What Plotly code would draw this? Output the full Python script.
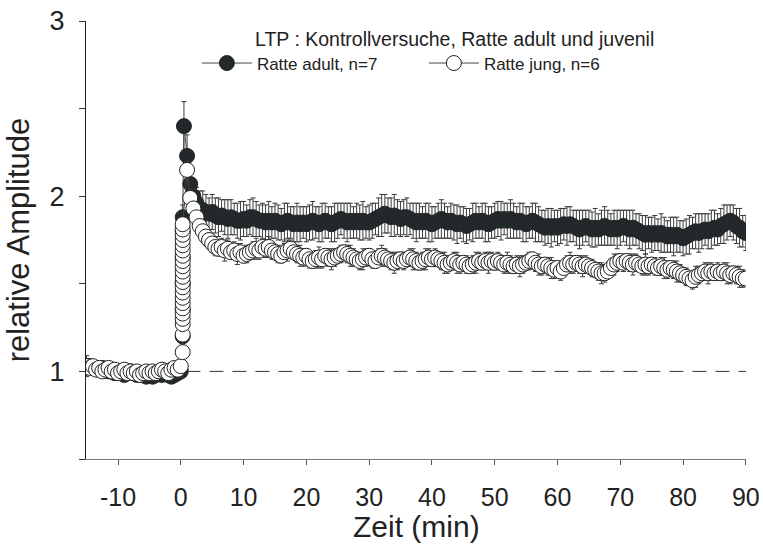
import numpy as np
import plotly.graph_objects as go

# ---------------- data ----------------
# baseline, t = -15 ... 0 min every 0.5 min
base_t = np.arange(-15, 0.01, 0.5)
adult_base = [1.03, 1.03, 1.02, 1.02, 1.01, 1.02, 1.01, 1.00, 1.01, 0.99,
              1.00, 0.99, 0.98, 0.99, 1.00, 0.99, 0.98, 0.99, 0.98, 0.97,
              0.98, 0.97, 0.98, 0.99, 0.98, 0.99, 0.98, 0.97, 0.98, 0.99, 1.00]
jung_base = [1.03, 1.02, 1.03, 1.01, 1.02, 1.00, 1.01, 1.02, 1.00, 1.01,
             0.99, 1.00, 1.01, 0.99, 1.00, 0.99, 1.00, 0.98, 0.99, 1.00,
             0.99, 1.00, 0.99, 1.00, 1.01, 1.00, 0.99, 1.01, 1.02, 1.01, 1.03]
adult_base_err = [0.06, 0.04, 0.03, 0.03, 0.03, 0.03, 0.03, 0.03, 0.03, 0.03,
                  0.03, 0.03, 0.03, 0.03, 0.03, 0.03, 0.03, 0.03, 0.03, 0.03,
                  0.03, 0.03, 0.03, 0.03, 0.03, 0.03, 0.03, 0.03, 0.03, 0.03, 0.03]
jung_base_err = [0.03] * 31

# tetanus stack (measurements during / right after stimulation)
stack_time = 0.3
adult_stack = [1.20, 1.35, 1.50, 1.65, 1.80, 1.88]
adult_stack_err = [0.05, 0.05, 0.05, 0.05, 0.06, 0.07]
jung_stack = [1.11, 1.21, 1.27, 1.30, 1.33, 1.36, 1.39, 1.42, 1.45, 1.48, 1.51,
              1.54, 1.57, 1.60, 1.63, 1.66, 1.69, 1.72, 1.75, 1.78, 1.81, 1.84]
jung_stack_err = [0.03] * len(jung_stack)

# post-tetanic, adult: t = 0.5 ... 90 every 0.5 min
adult_post_t = np.arange(0.5, 90.01, 0.5)
adult_post = [
    2.40, 2.23, 2.07, 2.00, 1.96, 1.93, 1.92, 1.91, 1.90, 1.91,
    1.89, 1.88, 1.89, 1.88, 1.87, 1.88, 1.87, 1.86, 1.86, 1.87,
    1.86, 1.88, 1.88, 1.87, 1.86, 1.86, 1.85, 1.86, 1.85, 1.86,
    1.85, 1.84, 1.85, 1.86, 1.85, 1.84, 1.85, 1.84, 1.85, 1.84,
    1.85, 1.86, 1.85, 1.84, 1.85, 1.86, 1.85, 1.84, 1.85, 1.86,
    1.87, 1.86, 1.85, 1.86, 1.85, 1.86, 1.85, 1.86, 1.85, 1.85,
    1.86, 1.87, 1.88, 1.89, 1.90, 1.89, 1.88, 1.89, 1.88, 1.87,
    1.88, 1.88, 1.87, 1.86, 1.85, 1.86, 1.85, 1.86, 1.85, 1.84,
    1.85, 1.86, 1.87, 1.86, 1.85, 1.86, 1.85, 1.84, 1.85, 1.84,
    1.83, 1.84, 1.85, 1.86, 1.85, 1.86, 1.85, 1.84, 1.85, 1.86,
    1.87, 1.86, 1.87, 1.86, 1.87, 1.86, 1.85, 1.86, 1.85, 1.84,
    1.85, 1.86, 1.85, 1.84, 1.83, 1.82, 1.83, 1.82, 1.83, 1.82,
    1.83, 1.84, 1.83, 1.84, 1.83, 1.82, 1.81, 1.82, 1.83, 1.82,
    1.81, 1.82, 1.81, 1.82, 1.83, 1.82, 1.81, 1.82, 1.81, 1.82,
    1.83, 1.82, 1.81, 1.82, 1.81, 1.80, 1.79, 1.78, 1.79, 1.78,
    1.79, 1.78, 1.79, 1.78, 1.77, 1.78, 1.77, 1.78, 1.77, 1.76,
    1.77, 1.78, 1.79, 1.80, 1.79, 1.80, 1.81, 1.80, 1.81, 1.82,
    1.81, 1.83, 1.84, 1.85, 1.86, 1.85, 1.83, 1.82, 1.80, 1.79]
adult_post_err = [
    0.14, 0.12, 0.10, 0.10, 0.09, 0.10, 0.11, 0.10, 0.09, 0.10,
    0.10, 0.11, 0.09, 0.10, 0.11, 0.10, 0.09, 0.10, 0.11, 0.10,
    0.09, 0.10, 0.11, 0.10, 0.09, 0.10, 0.10, 0.11, 0.09, 0.10,
    0.10, 0.09, 0.11, 0.10, 0.09, 0.10, 0.11, 0.10, 0.09, 0.10,
    0.10, 0.11, 0.09, 0.10, 0.11, 0.10, 0.09, 0.10, 0.11, 0.10,
    0.09, 0.10, 0.11, 0.10, 0.09, 0.10, 0.10, 0.11, 0.09, 0.10,
    0.10, 0.09, 0.11, 0.12, 0.11, 0.10, 0.11, 0.12, 0.10, 0.10,
    0.10, 0.11, 0.09, 0.10, 0.11, 0.10, 0.09, 0.10, 0.11, 0.10,
    0.09, 0.10, 0.11, 0.10, 0.09, 0.10, 0.10, 0.11, 0.09, 0.10,
    0.10, 0.09, 0.11, 0.10, 0.09, 0.10, 0.11, 0.10, 0.09, 0.10,
    0.10, 0.11, 0.09, 0.10, 0.11, 0.10, 0.09, 0.10, 0.11, 0.10,
    0.09, 0.10, 0.11, 0.10, 0.09, 0.10, 0.10, 0.11, 0.09, 0.10,
    0.10, 0.09, 0.11, 0.10, 0.09, 0.10, 0.11, 0.10, 0.09, 0.10,
    0.10, 0.11, 0.09, 0.10, 0.11, 0.10, 0.09, 0.10, 0.11, 0.10,
    0.09, 0.10, 0.11, 0.10, 0.09, 0.10, 0.10, 0.11, 0.09, 0.10,
    0.10, 0.09, 0.11, 0.10, 0.09, 0.10, 0.11, 0.10, 0.09, 0.10,
    0.10, 0.11, 0.09, 0.10, 0.11, 0.10, 0.09, 0.10, 0.11, 0.10,
    0.09, 0.10, 0.11, 0.10, 0.09, 0.10, 0.10, 0.11, 0.09, 0.10]

# post-tetanic, juvenile: t = 1.0 ... 90 every 0.5 min
jung_post_t = np.arange(1.0, 90.01, 0.5)
jung_post = [
    2.15, 1.99, 1.93, 1.88, 1.83, 1.80, 1.77, 1.75, 1.73,
    1.71, 1.70, 1.71, 1.69, 1.70, 1.68, 1.69, 1.67, 1.68, 1.66,
    1.67, 1.68, 1.69, 1.70, 1.69, 1.71, 1.70, 1.71, 1.69, 1.68,
    1.67, 1.66, 1.68, 1.69, 1.70, 1.68, 1.67, 1.66, 1.65, 1.66,
    1.64, 1.63, 1.64, 1.65, 1.64, 1.66, 1.65, 1.64, 1.65, 1.66,
    1.67, 1.68, 1.67, 1.66, 1.65, 1.64, 1.63, 1.64, 1.65, 1.66,
    1.64, 1.63, 1.65, 1.66, 1.65, 1.64, 1.63, 1.62, 1.63, 1.64,
    1.63, 1.64, 1.65, 1.64, 1.63, 1.62, 1.63, 1.64, 1.65, 1.64,
    1.65, 1.64, 1.63, 1.62, 1.61, 1.62, 1.63, 1.62, 1.61, 1.62,
    1.61, 1.60, 1.61, 1.62, 1.63, 1.62, 1.63, 1.62, 1.63, 1.62,
    1.63, 1.62, 1.61, 1.62, 1.61, 1.60, 1.61, 1.60, 1.61, 1.62,
    1.63, 1.64, 1.62, 1.61, 1.60, 1.61, 1.60, 1.59, 1.58, 1.59,
    1.57, 1.59, 1.61, 1.62, 1.61, 1.62, 1.61, 1.60, 1.61, 1.60,
    1.59, 1.58, 1.57, 1.56, 1.56, 1.57, 1.59, 1.61, 1.62, 1.63,
    1.62, 1.63, 1.62, 1.61, 1.62, 1.61, 1.60, 1.61, 1.60, 1.61,
    1.60, 1.59, 1.60, 1.59, 1.58, 1.59, 1.58, 1.57, 1.56, 1.55,
    1.54, 1.53, 1.52, 1.54, 1.55, 1.56, 1.57, 1.56, 1.57, 1.56,
    1.57, 1.56, 1.57, 1.56, 1.55, 1.56, 1.55, 1.54, 1.53, 1.53]
jung_post_err = [
    0.05, 0.05, 0.05, 0.05, 0.05, 0.05, 0.05, 0.05, 0.05,
    0.05, 0.04, 0.05, 0.06, 0.05, 0.04, 0.05, 0.06, 0.05, 0.04,
    0.05, 0.04, 0.05, 0.06, 0.05, 0.04, 0.05, 0.06, 0.05, 0.04,
    0.05, 0.04, 0.05, 0.06, 0.05, 0.04, 0.05, 0.06, 0.05, 0.04,
    0.05, 0.04, 0.05, 0.06, 0.05, 0.04, 0.05, 0.06, 0.05, 0.04,
    0.05, 0.04, 0.05, 0.06, 0.05, 0.04, 0.05, 0.06, 0.05, 0.04,
    0.05, 0.04, 0.05, 0.06, 0.05, 0.04, 0.05, 0.06, 0.05, 0.04,
    0.05, 0.04, 0.05, 0.06, 0.05, 0.04, 0.05, 0.06, 0.05, 0.04,
    0.05, 0.04, 0.05, 0.06, 0.05, 0.04, 0.05, 0.06, 0.05, 0.04,
    0.05, 0.04, 0.05, 0.06, 0.05, 0.04, 0.05, 0.06, 0.05, 0.04,
    0.05, 0.04, 0.05, 0.06, 0.05, 0.04, 0.05, 0.06, 0.05, 0.04,
    0.05, 0.04, 0.05, 0.06, 0.05, 0.04, 0.05, 0.06, 0.05, 0.04,
    0.05, 0.04, 0.05, 0.06, 0.05, 0.04, 0.05, 0.06, 0.05, 0.04,
    0.05, 0.04, 0.05, 0.06, 0.05, 0.04, 0.05, 0.06, 0.05, 0.04,
    0.05, 0.04, 0.05, 0.06, 0.05, 0.04, 0.05, 0.06, 0.05, 0.04,
    0.05, 0.04, 0.05, 0.06, 0.05, 0.04, 0.05, 0.06, 0.05, 0.04,
    0.05, 0.04, 0.05, 0.06, 0.05, 0.04, 0.05, 0.06, 0.05, 0.04,
    0.05, 0.04, 0.05, 0.06, 0.05, 0.04, 0.05, 0.06, 0.05, 0.04]

ref_x = [0.9, 90]
ref_y = [1, 1]

x_ticks = [-10, 0, 10, 20, 30, 40, 50, 60, 70, 80, 90]
x_ticktext = ["-10", "0", "10", "20", "30", "40", "50", "60", "70", "80", "90"]
y_ticks = [0.5, 1, 1.5, 2, 2.5, 3]
y_ticktext = ["", "1", "", "2", "", "3"]

title_text = "LTP : Kontrollversuche, Ratte adult und juvenil"
x_title = "Zeit (min)"
y_title = "relative Amplitude"
name_adult = "Ratte adult, n=7"
name_jung = "Ratte jung, n=6"

# ---------------- assemble ----------------
adult_x = list(base_t) + [stack_time] * len(adult_stack) + list(adult_post_t)
adult_y = adult_base + adult_stack + adult_post
adult_e = adult_base_err + adult_stack_err + adult_post_err
jung_x = list(base_t) + [stack_time] * len(jung_stack) + list(jung_post_t)
jung_y = jung_base + jung_stack + jung_post
jung_e = jung_base_err + jung_stack_err + jung_post_err

FONT = "Liberation Sans, Arial, sans-serif"
DARK = "#23282a"
TXT = "#222222"

fig = go.Figure()
fig.add_trace(go.Scatter(x=ref_x, y=ref_y, mode="lines", showlegend=False,
                         line=dict(color="#333333", width=1, dash="14px,9px"),
                         hoverinfo="skip"))
fig.add_trace(go.Scatter(
    x=adult_x, y=adult_y, name=name_adult, mode="lines+markers",
    line=dict(color="#444444", width=1),
    marker=dict(symbol="circle", size=15, color=DARK, line=dict(color=DARK, width=1)),
    error_y=dict(type="data", array=adult_e, visible=True, color="#3a3a3a",
                 thickness=1, width=2.5)))
fig.add_trace(go.Scatter(
    x=jung_x, y=jung_y, name=name_jung, mode="lines+markers",
    line=dict(color="#444444", width=1),
    marker=dict(symbol="circle", size=15, color="white", line=dict(color="#222222", width=1)),
    error_y=dict(type="data", array=jung_e, visible=True, color="#3a3a3a",
                 thickness=1, width=2.5)))

fig.add_annotation(text=title_text, xref="paper", yref="paper", x=0.559, y=0.958,
                   showarrow=False, font=dict(family=FONT, size=19.5, color=TXT),
                   xanchor="center", yanchor="middle")
fig.add_annotation(text=x_title, xref="paper", yref="paper", x=0.501, y=-0.155,
                   showarrow=False, font=dict(family=FONT, size=30, color=TXT),
                   xanchor="center", yanchor="middle")

fig.update_layout(
    width=763, height=546,
    margin=dict(l=86, r=17, t=21, b=87, autoexpand=False),
    paper_bgcolor="white", plot_bgcolor="white",
    font=dict(family=FONT, color=TXT),
    showlegend=True,
    legend=dict(orientation="h", x=0.168, y=0.903, xanchor="left", yanchor="middle",
                font=dict(family=FONT, size=17, color=TXT),
                bgcolor="rgba(0,0,0,0)", entrywidth=162, entrywidthmode="pixels",
                itemwidth=50, itemclick=False),
    xaxis=dict(range=[-15.1, 90.02], tickvals=x_ticks, ticktext=x_ticktext, ticks="outside",
               ticklen=5, tickcolor="#555555", showline=True, linecolor="#777777", linewidth=1,
               showgrid=False, zeroline=False, automargin=False, ticklabelstandoff=11,
               ticklabeloverflow="allow",
               tickfont=dict(size=25, family=FONT, color=TXT)),
    yaxis=dict(range=[0.5, 3], tickvals=y_ticks, ticktext=y_ticktext, ticks="outside",
               ticklen=6, tickcolor="#333333", showline=True, linecolor="#222222",
               linewidth=1, showgrid=False, zeroline=False, automargin=False,
               tickfont=dict(size=27, family=FONT, color=TXT), ticklabelstandoff=9,
               title=dict(text=y_title, font=dict(size=31, family=FONT, color=TXT),
                          standoff=10)),
)

fig.write_html("out.html")
